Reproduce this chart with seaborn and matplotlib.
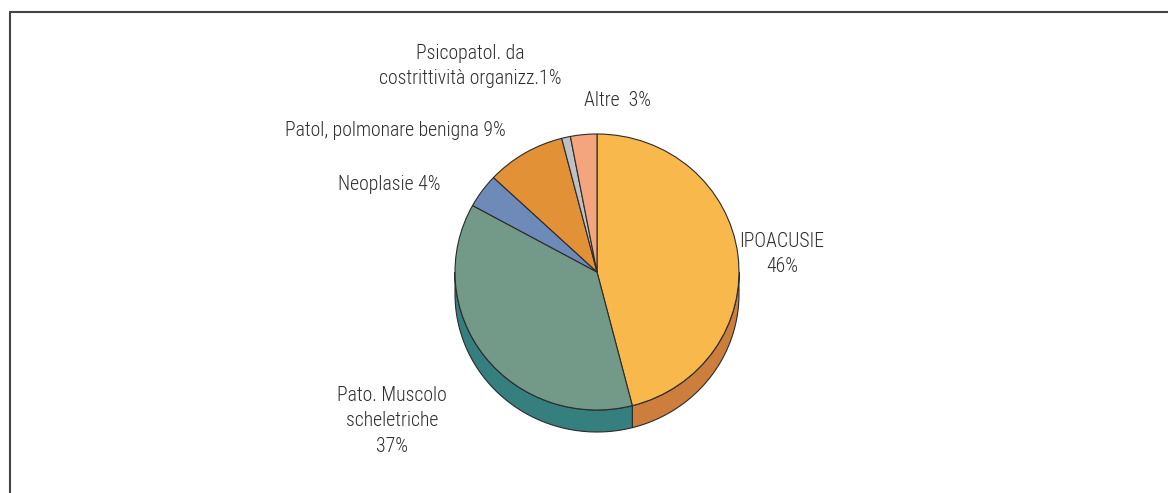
import numpy as np
import matplotlib
matplotlib.use("Agg")
import matplotlib.pyplot as plt
import seaborn as sns

# Data (percentages, clockwise from 12 o'clock)
labels = ["IPOACUSIE\n46%", "Pato. Muscolo\nscheletriche\n37%", "Neoplasie 4%",
          "Patol, polmonare benigna 9%", "Psicopatol. da\ncostrittività organizz.1%", "Altre  3%"]
values = [46, 37, 4, 9, 1, 3]
top_colors = ["#F9B84C", "#739988", "#6E8AB8", "#E39137", "#BFC0C2", "#F5A57E"]
side_colors = ["#CD7E3D", "#367F7F", "#4F6C99", "#B86E25", "#9A9B9D", "#D48563"]
# label centres in pixels (x, y from top)
label_pos = [(782, 254), (392, 421), (389, 184), (395, 130), (470, 66), (618, 100)]

sns.set_theme(style="white")
plt.rcParams["font.family"] = ["Roboto Condensed", "DejaVu Sans"]

W, H = 1168, 493
fig = plt.figure(figsize=(W / 100, H / 100), dpi=100)
ax = fig.add_axes([0, 0, 1, 1])

# pie geometry in pixels
cx, cy, rx, ry, depth_px = 597, 272, 142, 138, 22
depth = depth_px / ry

edge = "#2b2b2b"
lw = 0.8

# 3D side walls (only the front half, angles -180..0 deg)
start = 90.0
for v, sc in zip(values, side_colors):
    a1 = start
    a2 = start - v / sum(values) * 360
    start = a2
    lo, hi = max(a2, -180), min(a1, 0)
    if lo >= hi:
        continue
    t = np.radians(np.linspace(hi, lo, 80))
    xs = np.concatenate([np.cos(t), np.cos(t[::-1])])
    ys = np.concatenate([np.sin(t), np.sin(t[::-1]) - depth])
    ax.fill(xs, ys, color=sc, edgecolor=edge, linewidth=lw, zorder=1)

wedges, _ = ax.pie(values, colors=top_colors, startangle=90, counterclock=False,
                   wedgeprops=dict(edgecolor=edge, linewidth=lw))
for w in wedges:
    w.set_zorder(2)

ax.set_aspect("auto")
ax.set_xlim(-cx / rx, (W - cx) / rx)
ax.set_ylim(-(H - cy) / ry, cy / ry)
ax.axis("off")

for lab, (px, py) in zip(labels, label_pos):
    fig.text(px / W, 1 - py / H, lab, ha="center", va="center", fontsize=14.2,
             fontweight="light", color="#2e2e2e", linespacing=1.42)

# outer frame (top and left edges)
fig.add_artist(plt.Line2D([9.5 / W, 9.5 / W], [0, 1 - 11.5 / H], color="#444444", lw=1.5))
fig.add_artist(plt.Line2D([9.5 / W, 1], [1 - 11.5 / H, 1 - 11.5 / H], color="#444444", lw=1.5))

fig.savefig("out.png", dpi=100)
